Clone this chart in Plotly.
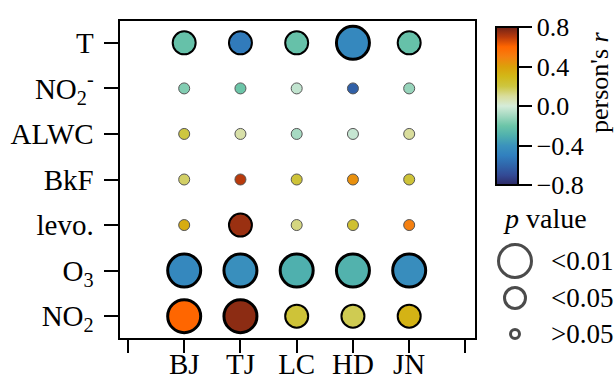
import plotly.graph_objects as go

# Sites (columns) and variables (rows, listed top to bottom)
sites = ["BJ", "TJ", "LC", "HD", "JN"]
variables = ["T", "NO<sub>2</sub><sup>-</sup>", "ALWC", "BkF", "levo.",
             "O<sub>3</sub>", "NO<sub>2</sub>"]

# Pearson's r for each variable at each site
r_T = [-0.22, -0.52, -0.22, -0.46, -0.22]
r_NO2m = [-0.16, -0.20, -0.04, -0.62, -0.12]
r_ALWC = [0.20, 0.08, -0.09, -0.03, 0.10]
r_BkF = [0.16, 0.70, 0.22, 0.45, 0.22]
r_levo = [0.35, 0.74, 0.13, 0.24, 0.50]
r_O3 = [-0.46, -0.42, -0.30, -0.29, -0.43]
r_NO2 = [0.60, 0.76, 0.22, 0.18, 0.32]

# significance class: 0 -> p<0.01, 1 -> p<0.05, 2 -> p>0.05
p_T = [1, 1, 1, 0, 1]
p_NO2m = [2, 2, 2, 2, 2]
p_ALWC = [2, 2, 2, 2, 2]
p_BkF = [2, 2, 2, 2, 2]
p_levo = [2, 1, 2, 2, 2]
p_O3 = [0, 0, 0, 0, 0]
p_NO2 = [0, 0, 1, 1, 1]

p_labels = ["&lt;0.01", "&lt;0.05", "&gt;0.05"]
cbar_ticks = [-0.8, -0.4, 0.0, 0.4, 0.8]

r_rows = [r_T, r_NO2m, r_ALWC, r_BkF, r_levo, r_O3, r_NO2]
p_rows = [p_T, p_NO2m, p_ALWC, p_BkF, p_levo, p_O3, p_NO2]

FONT = "Times New Roman, Liberation Serif, serif"

cscale = [
    [0.0, "#2e2a66"], [0.0625, "#334a95"], [0.125, "#3066ab"],
    [0.1875, "#3180bf"], [0.25, "#3b93bc"], [0.3125, "#4fb0ae"],
    [0.375, "#6cc5a8"], [0.4375, "#a2d8c0"], [0.5, "#d5ecd9"],
    [0.5625, "#d9dd9c"], [0.625, "#cdc640"], [0.6875, "#d2b818"],
    [0.75, "#dca00a"], [0.8125, "#f58010"], [0.875, "#ff6600"],
    [0.9375, "#b83a0c"], [1.0, "#6e2218"],
]

size_by_class = [33, 23, 11]
lw_by_class = [3, 2, 1]
lc_by_class = ["#000000", "#000000", "#555555"]

n = len(variables)
xs, ys, cs, ss, lws, lcs = [], [], [], [], [], []
for i, (rr, pp) in enumerate(zip(r_rows, p_rows)):
    yv = n - 1 - i
    for j, (rv, pv) in enumerate(zip(rr, pp)):
        xs.append(j + 1)
        ys.append(yv)
        cs.append(rv)
        ss.append(size_by_class[pv])
        lws.append(lw_by_class[pv])
        lcs.append(lc_by_class[pv])

W, H = 616, 383
# key panel in pixel units (right-hand side, lower half)
KX0, KY0 = 480, 190

fig = go.Figure()
fig.add_trace(go.Scatter(
    x=xs, y=ys, mode="markers", showlegend=False, hoverinfo="skip",
    marker=dict(
        size=ss, color=cs, colorscale=cscale, cmin=-0.8, cmax=0.8,
        line=dict(width=lws, color=lcs), opacity=1,
        colorbar=dict(
            thickness=22, thicknessmode="pixels",
            len=158, lenmode="pixels",
            x=496 / W, xanchor="left", xpad=0,
            y=(H - 106) / H, yanchor="middle", ypad=0,
            outlinewidth=2, outlinecolor="black",
            ticks="outside", ticklen=13, tickwidth=2, tickcolor="black",
            tickvals=cbar_ticks,
            ticktext=["\u22120.8", "\u22120.4", "0.0", "0.4", "0.8"],
            tickfont=dict(family=FONT, size=26, color="black"),
        ),
    ),
))

# p-value size key, drawn on a pixel-scaled helper axis
key_y = [261, 298, 334]
fig.add_trace(go.Scatter(
    x=[515, 515, 515], y=key_y, mode="markers", xaxis="x2", yaxis="y2",
    showlegend=False, hoverinfo="skip",
    marker=dict(size=[33, 21, 9], color="white",
                line=dict(width=3, color="black")),
))
for yy, lab in zip(key_y, p_labels):
    fig.add_annotation(x=549, y=yy, xref="x2", yref="y2", text=lab,
                       showarrow=False, xanchor="left", yanchor="middle",
                       font=dict(family=FONT, size=27, color="black"))
fig.add_annotation(x=545, y=218, xref="x2", yref="y2",
                   text="<i>p</i> value", showarrow=False,
                   xanchor="center", yanchor="middle",
                   font=dict(family=FONT, size=28, color="black"))
fig.add_annotation(x=600 / W, y=(H - 82) / H,
                   xref="paper", yref="paper",
                   text="person's <i>r</i>", showarrow=False, textangle=-90,
                   xanchor="center", yanchor="middle",
                   font=dict(family=FONT, size=26, color="black"))

fig.update_layout(
    width=W, height=H,
    margin=dict(l=0, r=0, t=0, b=0, autoexpand=False),
    paper_bgcolor="white", plot_bgcolor="white",
    xaxis=dict(
        domain=[119.5 / W, 475 / W], range=[-0.15, 6.17],
        tickvals=list(range(0, len(sites) + 2)),
        ticktext=[""] + sites + [""],
        showgrid=False, zeroline=False, automargin=False,
        showline=True, linewidth=2, linecolor="black", mirror=True,
        ticks="outside", ticklen=13, tickwidth=2, tickcolor="black",
        ticklabelstandoff=-14,
        tickfont=dict(family=FONT, size=29, color="black"),
    ),
    yaxis=dict(
        domain=[(H - 338) / H, (H - 21) / H], range=[-0.48, 6.48],
        tickvals=list(range(n)),
        ticktext=variables[::-1],
        showgrid=False, zeroline=False, automargin=False,
        showline=True, linewidth=2, linecolor="black", mirror=True,
        ticks="outside", ticklen=14, tickwidth=2, tickcolor="black",
        ticklabelstandoff=4,
        tickfont=dict(family=FONT, size=29, color="black"),
    ),
    xaxis2=dict(domain=[KX0 / W, 1.0], range=[KX0, W], visible=False,
                anchor="y2", fixedrange=True, automargin=False),
    yaxis2=dict(domain=[0.0, (H - KY0) / H], range=[H, KY0], visible=False,
                anchor="x2", fixedrange=True, automargin=False),
)

fig.write_html("out.html")
